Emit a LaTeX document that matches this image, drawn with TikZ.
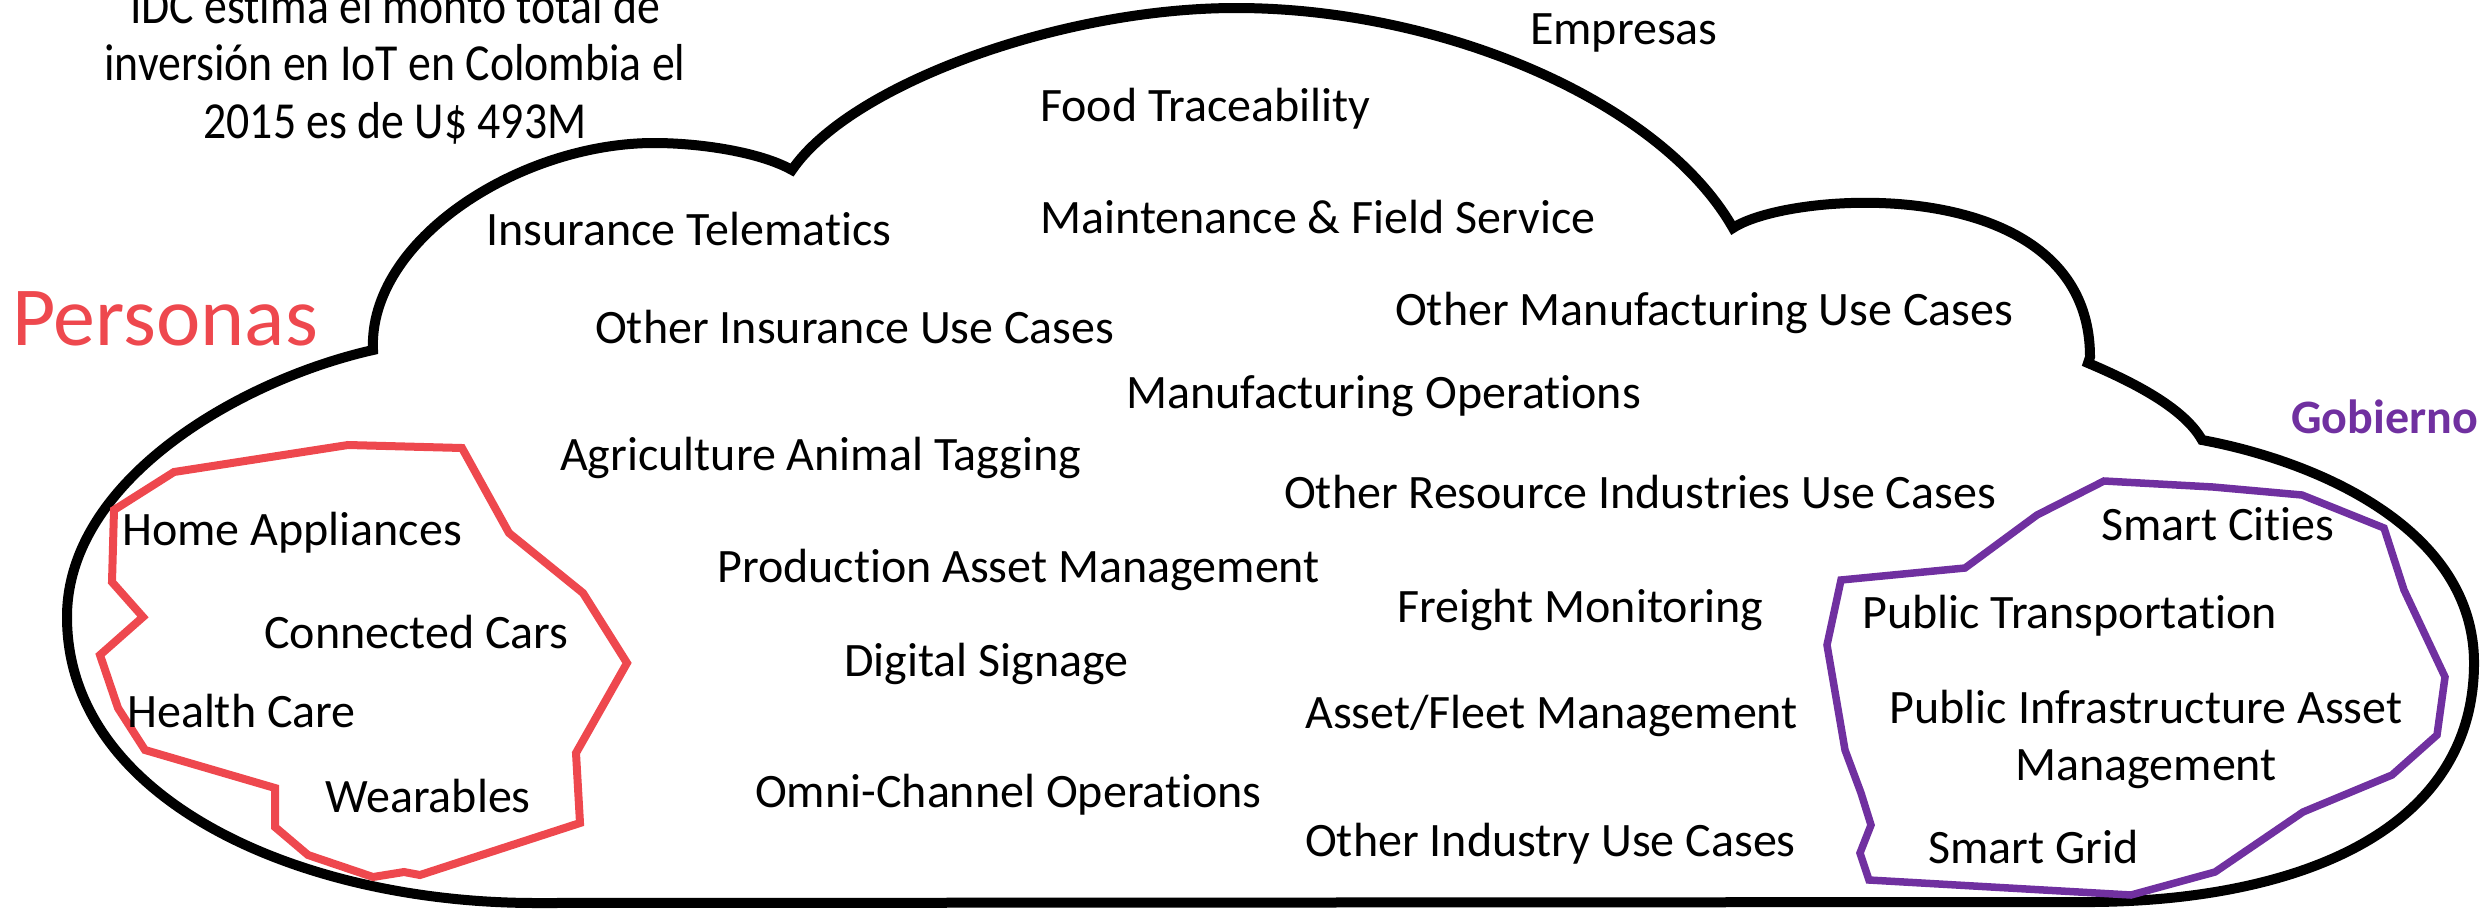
\documentclass[tikz,border=0pt]{standalone}
\usepackage{fontspec}
\setmainfont{Carlito}[Ligatures=NoCommon]
\newfontfamily\condfont[FakeStretch=0.88,Ligatures=NoCommon]{Carlito}
\definecolor{persred}{RGB}{238,72,78}
\definecolor{govpurple}{RGB}{112,48,160}
\begin{document}
\begin{tikzpicture}[x=1pt,y=-1pt,
  lbl/.style={anchor=base west, inner sep=0pt, font=\fontsize{48}{57}\selectfont},
  cloudline/.style={draw=black, line width=10pt},
  persline/.style={draw=persred, line width=8pt},
  govline/.style={draw=govpurple, line width=7.5pt}]
\useasboundingbox (0,0) rectangle (2484,908);

% cloud
\draw[cloudline]
  (536,903) .. controls (300,903) and (67,800) .. (67,617)
  .. controls (67,480) and (240,380) .. (373,350)
  .. controls (368,240) and (520,143) .. (654,143)
  .. controls (700,143) and (760,152) .. (792,170)
  .. controls (850,85) and (1060,8) .. (1236,8)
  .. controls (1440,8) and (1660,100) .. (1733,228)
  .. controls (1790,190) and (2090,170) .. (2090,357)
  -- (2088,363)
  .. controls (2140,385) and (2185,410) .. (2202,440)
  .. controls (2320,462) and (2474,530) .. (2474,663)
  .. controls (2474,830) and (2300,900) .. (2094,902)
  -- cycle;

% Personas region
\draw[persline] (348,445) -- (462,448) -- (509,533) -- (583,593) -- (627,663)
  -- (576,753) -- (580,823) -- (420,875) -- (404,872) -- (373,877) -- (308,855)
  -- (275,827) -- (275,788) -- (145,750) -- (118,708) -- (100,655) -- (143,617)
  -- (112,582) -- (114,510) -- (174,472) -- cycle;

% Gobierno region
\draw[govline] (2104,481) -- (2213,487) -- (2302,495) -- (2384,528) -- (2404,590)
  -- (2445,677) -- (2437,735) -- (2392,775) -- (2303,812) -- (2215,872)
  -- (2131,895) -- (1869,880) -- (1860,853) -- (1871,825) -- (1861,793)
  -- (1845,750) -- (1827,645) -- (1841,580) -- (1965,568) -- (2037,515) -- cycle;

% headline (base anchor = last line)
\node[anchor=base, inner sep=0pt, align=center,
  font=\condfont\fontsize{52}{57.5}\selectfont] (idc) at (395,138)
  {IDC estima el monto total de\\inversión en IoT en Colombia el\\2015 es de U\$ 493M};

% group titles
\node[anchor=base west, inner sep=0pt, text=persred,
  font=\fontsize{84}{90}\selectfont] (personas) at (12,345) {Personas};
\node[anchor=base west, inner sep=0pt, text=govpurple,
  font=\bfseries\fontsize{48}{55}\selectfont] (gobierno) at (2291,433) {Gobierno};
\node[lbl] (empresas) at (1530,44) {Empresas};

% enterprise use cases
\node[lbl] (food) at (1040,121) {Food Traceability};
\node[lbl] (instel) at (486,245) {Insurance Telematics};
\node[lbl] (maint) at (1040,233) {Maintenance \& Field Service};
\node[lbl] (othman) at (1395,325) {Other Manufacturing Use Cases};
\node[lbl] (othins) at (595,343) {Other Insurance Use Cases};
\node[lbl] (manops) at (1126,408) {Manufacturing Operations};
\node[lbl] (agri) at (560,470) {Agriculture Animal Tagging};
\node[lbl] (othres) at (1284,508) {Other Resource Industries Use Cases};
\node[lbl] (prodasset) at (717,582) {Production Asset Management};
\node[lbl] (freight) at (1397,622) {Freight Monitoring};
\node[lbl] (signage) at (844,676) {Digital Signage};
\node[lbl] (fleet) at (1305,728) {Asset/Fleet Management};
\node[lbl] (omni) at (755,807) {Omni-Channel Operations};
\node[lbl] (othind) at (1305,856) {Other Industry Use Cases};

% personas use cases
\node[lbl] (home) at (122,545) {Home Appliances};
\node[lbl] (cars) at (264,648) {Connected Cars};
\node[lbl] (health) at (127,727) {Health Care};
\node[lbl] (wear) at (325,812) {Wearables};

% government use cases
\node[lbl] (cities) at (2101,540) {Smart Cities};
\node[lbl] (transport) at (1862,628) {Public Transportation};
\node[anchor=base, inner sep=0pt, align=center,
  font=\fontsize{48}{57}\selectfont] (infra) at (2146,780)
  {Public Infrastructure Asset\\Management};
\node[lbl] (grid) at (1928,863) {Smart Grid};
\end{tikzpicture}
\end{document}
